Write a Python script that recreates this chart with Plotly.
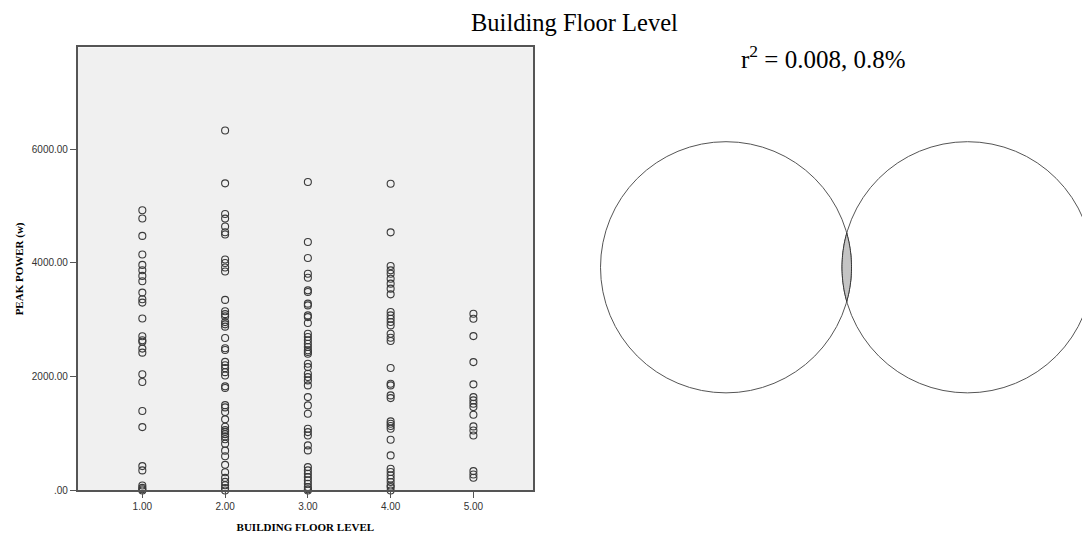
import numpy as np
import plotly.graph_objects as go

# ---------------- data ----------------
floor_levels = [1, 2, 3, 4, 5]
tick_labels_x = ["1.00", "2.00", "3.00", "4.00", "5.00"]
tick_vals_y = [0, 2000, 4000, 6000]
tick_labels_y = [".00", "2000.00", "4000.00", "6000.00"]

peak_floor1 = [4928, 4781, 4476, 4148, 3966, 3872, 3772, 3678, 3479, 3362, 3303, 3022,
               2710, 2640, 2615, 2494, 2423, 2042, 1906, 1396, 1114, 428, 352, 88, 45, 20, 0]
peak_floor2 = [6330, 5400, 4860, 4780, 4640, 4540, 4500, 4060, 4000, 3920, 3850, 3350,
               3150, 3100, 3060, 2960, 2920, 2880, 2680, 2500, 2470, 2260, 2200, 2150,
               2080, 2020, 1830, 1800, 1500, 1460, 1380, 1250, 1120, 1060, 1030, 990,
               950, 900, 820, 700, 600, 450, 320, 220, 150, 90, 40, 0]
peak_floor3 = [5423, 4368, 4087, 3811, 3741, 3518, 3488, 3284, 3254, 3078, 3048, 2943,
               2756, 2697, 2639, 2580, 2521, 2463, 2433, 2404, 2228, 2169, 2052, 1993,
               1935, 1847, 1641, 1495, 1349, 1085, 1026, 967, 792, 704, 410, 352, 293,
               234, 176, 117, 59, 20, 0]
peak_floor4 = [5394, 4538, 3946, 3870, 3811, 3723, 3636, 3548, 3448, 3137, 3078, 3020,
               2961, 2902, 2756, 2686, 2627, 2152, 1877, 1847, 1671, 1624, 1214, 1173,
               1132, 1085, 891, 616, 381, 323, 264, 205, 147, 88, 59, 0]
peak_floor5 = [3108, 3020, 2714, 2257, 1865, 1641, 1583, 1525, 1465, 1331, 1126, 1055,
               967, 340, 281, 223]

r_squared = 0.008
title_text = "Building Floor Level"
r2_text = "r<sup>2</sup> = 0.008, 0.8%"

# ---------------- figure ----------------
OFF = 8          # default page body margin
SY = 0.988       # observed vertical scale of the captured page
W, H = 1090 - OFF, 531

def px(x):
    return (x - OFF) / W

def py(y):
    return 1 - (y / SY - OFF) / H

all_series = [peak_floor1, peak_floor2, peak_floor3, peak_floor4, peak_floor5]
xs, ys = [], []
for lvl, vals in zip(floor_levels, all_series):
    xs += [lvl] * len(vals)
    ys += vals

fig = go.Figure()
fig.add_trace(go.Scatter(
    x=xs, y=ys, mode="markers", cliponaxis=False, showlegend=False,
    marker=dict(symbol="circle-open", size=7, color="#3a3a3a", line=dict(width=1.1, color="#3a3a3a")),
))

# grey plot background (drawn as shape so page stays white elsewhere)
fig.add_shape(type="rect", xref="x domain", yref="y domain", x0=0, x1=1, y0=0, y1=1,
              fillcolor="#f0f0f0", line=dict(width=0), layer="below")

# ---------------- Venn diagram ----------------
cy = 267
r = 125.5
c1x, c2x = 726.0, 967.5
fig.add_shape(type="circle", xref="paper", yref="paper",
              x0=px(c1x - r), x1=px(c1x + r), y0=py(cy + r), y1=py(cy - r),
              line=dict(color="#555555", width=1))
fig.add_shape(type="circle", xref="paper", yref="paper",
              x0=px(c2x - r), x1=px(c2x + r), y0=py(cy + r), y1=py(cy - r),
              line=dict(color="#555555", width=1))

# lens (overlap) polygon
d = c2x - c1x
xm = d / 2.0
half = np.sqrt(r * r - xm * xm)
a1 = np.arcsin(half / r)
t1 = np.linspace(-a1, a1, 40)
pts_x = list(c1x + r * np.cos(t1))
pts_y = list(cy + r * np.sin(t1))
t2 = np.linspace(np.pi - a1, np.pi + a1, 40)
pts_x += list(c2x + r * np.cos(t2))
pts_y += list(cy - r * np.sin(t2 - np.pi))
path = "M " + " L ".join(f"{px(x):.5f},{py(y):.5f}" for x, y in zip(pts_x, pts_y)) + " Z"
fig.add_shape(type="path", xref="paper", yref="paper", path=path,
              fillcolor="#c4c4c4", line=dict(color="#333333", width=1))

# ---------------- text ----------------
fig.add_annotation(text=title_text, xref="paper", yref="paper", x=px(574), y=py(22),
                   showarrow=False, xanchor="center", yanchor="middle",
                   font=dict(family="Liberation Serif", size=24.5, color="black"))
fig.add_annotation(text=r2_text, xref="paper", yref="paper", x=px(823), y=py(57),
                   showarrow=False, xanchor="center", yanchor="middle",
                   font=dict(family="Liberation Serif", size=25, color="black"))

axis_common = dict(showline=True, linecolor="#555555", linewidth=1.5, mirror=True,
                   ticks="outside", ticklen=6, tickcolor="#555555", tickwidth=1,
                   showgrid=False, zeroline=False,
                   tickfont=dict(family="Liberation Sans", size=10, color="#333333"))

fig.update_layout(
    width=W, height=H, autosize=False,
    margin=dict(l=0, r=0, t=0, b=0),
    paper_bgcolor="white", plot_bgcolor="white",
    xaxis=dict(domain=[px(77.7), px(533)], range=[0.219, 5.72],
               tickvals=floor_levels, ticktext=tick_labels_x,
               title=dict(text="<b>BUILDING FLOOR LEVEL</b>", standoff=12,
                          font=dict(family="Liberation Serif", size=11, color="black")),
               **axis_common),
    yaxis=dict(domain=[py(490), py(47.3)], range=[0, 7790],
               tickvals=tick_vals_y, ticktext=tick_labels_y,
               title=dict(text="<b>PEAK POWER (w)</b>", standoff=6,
                          font=dict(family="Liberation Serif", size=11, color="black")),
               **axis_common),
)

fig.write_html("out.html")
